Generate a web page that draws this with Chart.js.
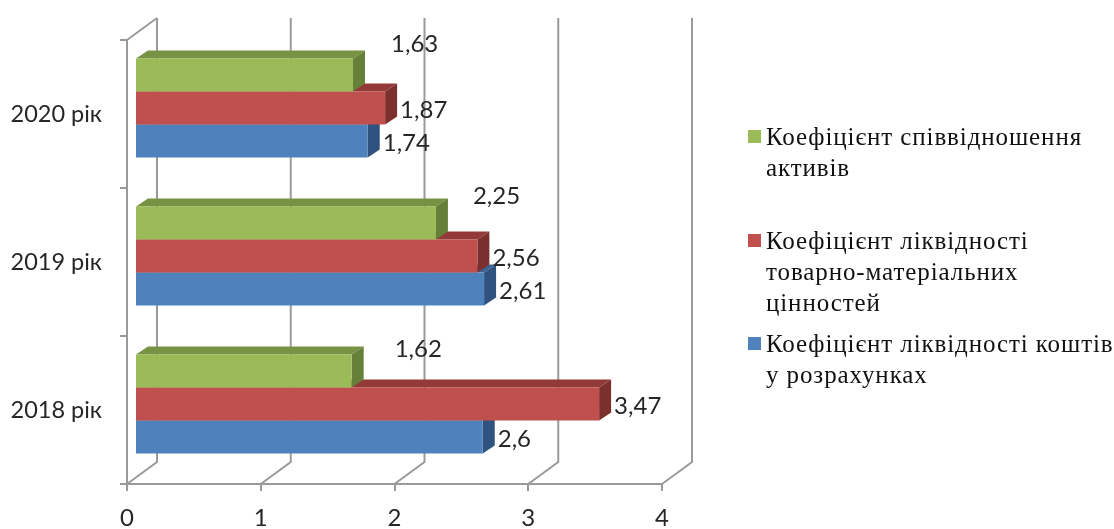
<!DOCTYPE html>
<html>
<head>
<meta charset="utf-8">
<title>Коефіцієнти ліквідності</title>
<script src="https://cdn.jsdelivr.net/npm/chart.js@4"></script>
<style>
  html, body { margin: 0; padding: 0; background: #fff; }
  #wrap { width: 1114px; height: 529px; }
</style>
</head>
<body>
<div id="wrap"><canvas id="ratios" width="1114" height="529"></canvas></div>
<script>
  const years = ["2020 рік", "2019 рік", "2018 рік"];
  const assetRatio = [1.63, 2.25, 1.62];
  const inventoryLiquidity = [1.87, 2.56, 3.47];
  const receivablesLiquidity = [1.74, 2.61, 2.6];
  const valueTicks = [0, 1, 2, 3, 4];

  const assetRatioName = ["Коефіцієнт співвідношення", "активів"];
  const inventoryName = ["Коефіцієнт ліквідності", "товарно-матеріальних", "цінностей"];
  const receivablesName = ["Коефіцієнт ліквідності коштів", "у розрахунках"];

  const GRID = "#9a9a9a";
  const AXIS_FONT = "Lato, 'Open Sans', sans-serif";

  // where the bars sit inside the box, and how deep the box and bars look
  const barShift = { x: 8, y: -6 };
  const wallDepth = { x: 30, y: -22 };
  const barDepth = { x: 12, y: -8 };

  // the upper labels float away from their bars
  const floatingLabel = [{ x: 38, y: -31 }, { x: 37, y: -27 }, { x: 43, y: -22 }];

  const seriesStyles = [
    { front: "#9BBB59", top: "#779242", side: "#66803A", legendY: [145, 176], name: assetRatioName },
    { front: "#C0504D", top: "#933A38", side: "#7C302E", legendY: [249, 280, 311], name: inventoryName },
    { front: "#4F81BD", top: "#3C6294", side: "#30527F", legendY: [352, 383], name: receivablesName }
  ];

  function face(ctx, color, points) {
    ctx.fillStyle = color;
    ctx.beginPath();
    points.forEach((p, i) => (i ? ctx.lineTo(p[0], p[1]) : ctx.moveTo(p[0], p[1])));
    ctx.closePath();
    ctx.fill();
  }

  // back wall, floor and left wall lines behind the bars
  const walls = {
    id: "walls",
    beforeDatasetsDraw(chart) {
      const { ctx, chartArea, scales } = chart;
      const dx = wallDepth.x, dy = wallDepth.y;
      ctx.save();
      ctx.strokeStyle = GRID;
      ctx.lineWidth = 2;
      ctx.beginPath();
      valueTicks.forEach(v => {
        const x = scales.x.getPixelForValue(v);
        ctx.moveTo(x, chartArea.bottom);
        ctx.lineTo(x + dx, chartArea.bottom + dy);
        ctx.lineTo(x + dx, chartArea.top + dy);
      });
      ctx.moveTo(chartArea.left, chartArea.top);
      ctx.lineTo(chartArea.left + dx, chartArea.top + dy);
      ctx.stroke();
      ctx.restore();
    }
  };

  // top and end faces of each bar; the front face is the library's own bar
  const bars3d = {
    id: "bars3d",
    beforeDatasetDraw(chart, args) {
      const { ctx } = chart;
      const style = seriesStyles[args.index];
      ctx.save();
      ctx.translate(barShift.x, barShift.y);
      args.meta.data.forEach(bar => {
        const top = bar.y - bar.height / 2;
        const bottom = bar.y + bar.height / 2;
        const dx = barDepth.x, dy = barDepth.y;
        face(ctx, style.top, [[bar.base, top], [bar.x, top], [bar.x + dx, top + dy], [bar.base + dx, top + dy]]);
        face(ctx, style.side, [[bar.x, top], [bar.x + dx, top + dy], [bar.x + dx, bottom + dy], [bar.x, bottom]]);
      });
    },
    afterDatasetDraw(chart) {
      chart.ctx.restore();
    }
  };

  const valueLabels = {
    id: "valueLabels",
    afterDatasetsDraw(chart) {
      const { ctx } = chart;
      ctx.save();
      ctx.font = "24px " + AXIS_FONT;
      ctx.fillStyle = "#262626";
      ctx.textAlign = "left";
      ctx.textBaseline = "middle";
      chart.data.datasets.forEach((ds, d) => {
        chart.getDatasetMeta(d).data.forEach((bar, i) => {
          const nudge = d === 0 ? floatingLabel[i] : { x: 15, y: 2 };
          const label = String(ds.data[i]).replace(".", ",");
          ctx.fillText(label, bar.x + barShift.x + nudge.x, bar.y + barShift.y + nudge.y);
        });
      });
      ctx.restore();
    }
  };

  // legend with wrapped names, spaced unevenly
  const sideLegend = {
    id: "sideLegend",
    afterDraw(chart) {
      const { ctx } = chart;
      ctx.save();
      ctx.font = "25px 'Liberation Serif', serif";
      ctx.letterSpacing = "0.9px";
      ctx.textAlign = "left";
      ctx.textBaseline = "alphabetic";
      seriesStyles.forEach(s => {
        ctx.fillStyle = s.front;
        ctx.fillRect(748, s.legendY[0] - 15, 13, 13);
        ctx.fillStyle = "#111";
        s.name.forEach((line, i) => ctx.fillText(line, 766, s.legendY[i]));
      });
      ctx.restore();
    }
  };

  function series(label, data, style) {
    return { label, data, backgroundColor: style.front, clip: false };
  }

  new Chart(document.getElementById("ratios"), {
    type: "bar",
    data: {
      labels: years,
      datasets: [
        series(assetRatioName.join(" "), assetRatio, seriesStyles[0]),
        series(inventoryName.join(" "), inventoryLiquidity, seriesStyles[1]),
        series(receivablesName.join(" "), receivablesLiquidity, seriesStyles[2])
      ]
    },
    options: {
      indexAxis: "y",
      responsive: false,
      animation: false,
      layout: { padding: { top: 40, right: 452, left: 0, bottom: 0 } },
      datasets: { bar: { categoryPercentage: 0.67, barPercentage: 1 } },
      plugins: { legend: { display: false }, tooltip: { enabled: false } },
      scales: {
        x: {
          min: 0,
          max: 4,
          afterFit: s => { s.height = 45; },
          afterBuildTicks: s => { s.ticks = valueTicks.map(value => ({ value })); },
          grid: { drawOnChartArea: false, color: GRID, lineWidth: 2, tickLength: 7 },
          border: { color: GRID, width: 2 },
          ticks: { color: "#262626", font: { family: AXIS_FONT, size: 24 }, padding: 13, maxRotation: 0 }
        },
        y: {
          afterFit: s => { s.width = 127; },
          grid: { drawOnChartArea: false, color: GRID, lineWidth: 2, tickLength: 7 },
          border: { color: GRID, width: 2 },
          ticks: { color: "#262626", font: { family: AXIS_FONT, size: 23.5 }, padding: 18 }
        }
      }
    },
    plugins: [walls, bars3d, valueLabels, sideLegend]
  });
</script>
</body>
</html>
